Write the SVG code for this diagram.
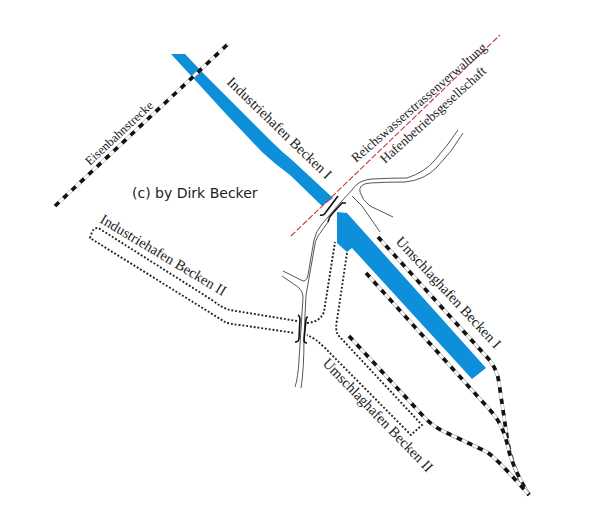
<svg xmlns="http://www.w3.org/2000/svg" xmlns:xlink="http://www.w3.org/1999/xlink" width="600" height="518" viewBox="0 0 600 518">
<style>
.water{fill:#0d8fd9;stroke:none}
.road{fill:none;stroke:#444;stroke-width:.9}
.dot{fill:none;stroke:#222;stroke-width:1.9;stroke-dasharray:1.9 1.9}
.bed{fill:none;stroke:#aaa;stroke-width:3.6}
.bed2{fill:none;stroke:#fff;stroke-width:2.4}
.tie{fill:none;stroke:#111;stroke-width:3.6;stroke-dasharray:5.5 6}
.br{fill:none;stroke:#111;stroke-width:1.6}
.red{fill:none;stroke:#c8343c;stroke-width:1.1;stroke-dasharray:6 2}
.lab{font-family:"Liberation Serif",serif;font-size:14.5px;fill:#222}
.sm{font-size:13.3px}
.cr{font-family:"DejaVu Sans",sans-serif;font-size:14px;fill:#222}
</style>
<defs>
<path id="r1" d="M55 206L228 44"/>
<path id="r2" d="M378 237L485 355Q497 367 499 383L507 437Q512 470 529 495"/>
<path id="r3" d="M366 273L490 410Q502 423 507 443Q511 465 529 495"/>
<path id="r4" d="M349 336L425 418Q435 428 447 433L485 451Q495 456 529 495"/>
</defs>
<g id="water">
<path class="water" d="M171 54H185L203 73L232 102L272 142Q282 152 292 160L333 198L322 206L290 175Q276 165 262 152L226 114L194 79Z"/>
<path class="water" d="M337 212L347 213L486 368L472 379L352 248L347 252L337 243L337 223Z"/>
</g>
<g id="connectors">
<path class="road" d="M283 271L303 281Q307 281 308 275L314 240Q316 231 322 224L340 203L352 190Q358 180 372 179Q390 178 407 178Q425 172 435 160Q448 145 458 130"/>
<path class="road" d="M463 133Q452 152 437 167Q425 180 405 182Q385 182 370 183Q358 184 360 192Q362 200 370 206L393 217"/>
<path class="road" d="M328 222L318 236Q315 240 314 250L306 295L304 337Q304 370 301 388"/>
<path class="road" d="M282 276L298 287Q303 291 303 298L299 360Q298 378 295 387"/>
<path class="road" d="M352 196L362 206L380 232"/>
<path class="dot" d="M297 321L230 310Q222 308 212 300L100 229Q95 226 92 232L90 238L225 322Q230 324 240 325L295 333"/>
<path class="dot" d="M307 323Q320 322 324 312L335 242"/>
<path class="dot" d="M347 253L337 320Q335 330 338 335L422 425L411 435L325 348Q315 338 307 335"/>
<use xlink:href="#r1" class="bed"/><use xlink:href="#r1" class="bed2"/><use xlink:href="#r1" class="tie"/>
<use xlink:href="#r2" class="bed"/><use xlink:href="#r2" class="bed2"/><use xlink:href="#r2" class="tie"/>
<use xlink:href="#r3" class="bed"/><use xlink:href="#r3" class="bed2"/><use xlink:href="#r3" class="tie"/>
<use xlink:href="#r4" class="bed"/><use xlink:href="#r4" class="bed2"/><use xlink:href="#r4" class="tie"/>
<path class="red" d="M291 236L500 35"/>
</g>
<g id="bridge-upper">
<path class="br" d="M320 215Q324 216 326 212L338 196"/>
<path class="br" d="M328 222Q329 217 332 214L342 203Q344 203 346 203"/>
</g>
<g id="bridge-lower">
<path class="br" d="M298 315Q300 316 300 319L299 338Q299 342 295 342"/>
<path class="br" d="M308 317Q306 317 306 320L304 340Q304 343 307 343"/>
</g>
<g id="labels">
<text class="lab" style="font-size:12.5px" transform="translate(90 166) rotate(-43)">Eisenbahnstrecke</text>
<text class="lab" transform="translate(226 83) rotate(44)">Industriehafen Becken I</text>
<text class="lab sm" transform="translate(356 163) rotate(-41)">Reichswasserstrassenverwaltung</text>
<text class="lab sm" transform="translate(385 164) rotate(-42)">Hafenbetriebsgesellschaft</text>
<text class="lab" transform="translate(395 242) rotate(47)">Umschlaghafen Becken I</text>
<text class="lab" transform="translate(322 364) rotate(46)">Umschlaghafen Becken II</text>
<text class="lab" transform="translate(99 222) rotate(31)">Industriehafen Becken II</text>
<text class="cr" x="132" y="198">(c) by Dirk Becker</text>
</g>
</svg>
